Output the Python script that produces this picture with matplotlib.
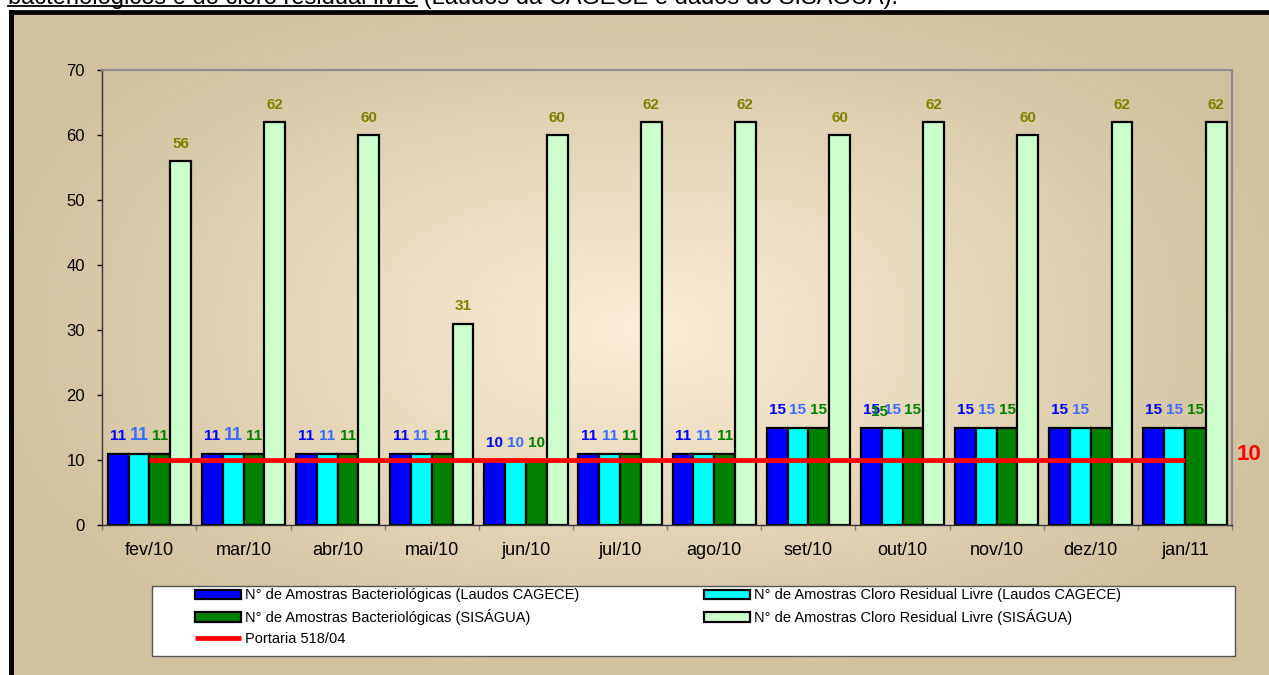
import numpy as np
import matplotlib
matplotlib.use('Agg')
import matplotlib.pyplot as plt
from matplotlib.patches import Rectangle
from matplotlib.lines import Line2D
import matplotlib.transforms as mtransforms

plt.rcParams['font.family'] = ['Liberation Sans', 'DejaVu Sans']

# ---------------- data ----------------
months = ['fev/10', 'mar/10', 'abr/10', 'mai/10', 'jun/10', 'jul/10',
          'ago/10', 'set/10', 'out/10', 'nov/10', 'dez/10', 'jan/11']
bact_cagece = [11, 11, 11, 11, 10, 11, 11, 15, 15, 15, 15, 15]
cloro_cagece = [11, 11, 11, 11, 10, 11, 11, 15, 15, 15, 15, 15]
bact_sisagua = [11, 11, 11, 11, 10, 11, 11, 15, 15, 15, 15, 15]
cloro_sisagua = [56, 62, 60, 31, 60, 62, 62, 60, 62, 60, 62, 62]
portaria = [10] * 12
portaria_label = '10'
yticks = [0, 10, 20, 30, 40, 50, 60, 70]

series_names = ['N° de Amostras Bacteriológicas (Laudos CAGECE)',
                'N° de Amostras Cloro Residual Livre (Laudos CAGECE)',
                'N° de Amostras Bacteriológicas (SISÁGUA)',
                'N° de Amostras Cloro Residual Livre (SISÁGUA)']
portaria_name = 'Portaria 518/04'
title_underlined = 'bacteriológicos e do cloro residual livre'
title_rest = ' (Laudos da CAGECE e dados do SISÁGUA).'

# ---------------- figure ----------------
W, H, DPI = 1269, 675, 100
fig = plt.figure(figsize=(W / DPI, H / DPI), dpi=DPI)
fig.patch.set_facecolor('white')

# background gradient inside the black frame
bg = fig.add_axes([0, 0, 1, 1], zorder=-10)
yy, xx = np.mgrid[0:H, 0:W] + 0.5
cx, cy, rx, ry = 640, 330, 650, 345
p = 2.5
d = ((np.abs(xx - cx) / rx) ** p + (np.abs(yy - cy) / ry) ** p) ** (1 / p)
d = np.clip(d, 0, 1)
c0 = np.array([0xFB, 0xEE, 0xD6]) / 255
c1 = np.array([0xD0, 0xC2, 0x9E]) / 255
img = c0 + (c1 - c0) * d[..., None]
img[(xx < 10) | (yy < 11)] = 1.0
bg.imshow(img, extent=[0, W, H, 0], aspect='auto', interpolation='bilinear')
bg.set_xlim(0, W)
bg.set_ylim(H, 0)
bg.axis('off')
bg.plot([10.5, W + 20], [11.5, 11.5], color='black', lw=3.4, solid_capstyle='projecting')
bg.plot([10.5, 10.5], [11.5, H + 20], color='black', lw=3.6, solid_capstyle='projecting')

# ---------------- main axes ----------------
L, R, T, B = 102.3, 1232, 70, 525
ax = fig.add_axes([L / W, 1 - B / H, (R - L) / W, (B - T) / H])
ax.patch.set_alpha(0)

x = np.arange(len(months))
w = 0.221
offs = np.array([-1.5, -0.5, 0.5, 1.5]) * w
fills = ['#0000FF', '#00FFFF', '#008000', '#CCFFCC']
label_colors = ['#0000FF', '#3D6BFF', '#008000', '#808000']
series = [bact_cagece, cloro_cagece, bact_sisagua, cloro_sisagua]

bars = []
for k in range(4):
    b = ax.bar(x + offs[k], series[k], w, color=fills[k], edgecolor='black',
               linewidth=1.6, label=series_names[k], zorder=2)
    bars.append(b)

line, = ax.plot(x, portaria, color='#FF0000', lw=3.4, zorder=4,
                solid_capstyle='butt', label=portaria_name)

# value labels
for k in range(4):
    for i in range(len(months)):
        xi, yi = x[i] + offs[k], series[k][i]
        fs = 11
        if k == 1 and i in (0, 1):
            fs = 13
        dx = 0
        dy = 9.7
        if k == 2 and i == 10:
            # this label sits displaced over the out/10 group in the original
            xi = x[8] + offs[0] + 0.09
            dy = 8.2
        ax.annotate(str(series[k][i]), (xi, yi), xytext=(dx, dy),
                    textcoords='offset points', ha='center', va='baseline',
                    fontsize=fs, fontweight='bold', color=label_colors[k],
                    zorder=5, annotation_clip=False)

trans = mtransforms.blended_transform_factory(ax.transAxes, ax.transData)
ax.text(1.0148, portaria[-1], portaria_label, transform=trans, color='#FF0000',
        fontsize=16, fontweight='bold', ha='center', va='baseline')

ax.set_xlim(-0.5, len(months) - 0.5)
ax.set_ylim(0, 70)
ax.set_yticks(yticks)
ax.set_xticks(x)
ax.set_xticklabels(months)
ax.set_xticks(np.arange(len(months) + 1) - 0.5, minor=True)
ax.tick_params(axis='y', which='major', direction='out', length=3.5, width=1,
               labelsize=12, pad=9, colors='black')
ax.tick_params(axis='x', which='major', length=0, labelsize=13, pad=12)
ax.tick_params(axis='x', which='minor', direction='out', length=3.5, width=1,
               color='#808080')

for s in ['top', 'right']:
    ax.spines[s].set_color('#8C8C8C')
    ax.spines[s].set_linewidth(1.6)
for s in ['left', 'bottom']:
    ax.spines[s].set_color('#333333')
    ax.spines[s].set_linewidth(1.0)

# ---------------- legend ----------------
fig.patches.append(Rectangle((152 / W, 1 - 656 / H), (1235 - 152) / W, (656 - 586) / H,
                             transform=fig.transFigure, facecolor='white',
                             edgecolor='#555555', lw=1.0, zorder=1))
leg_kw = dict(frameon=False, fontsize=10.5, handlelength=3.15, handleheight=0.62,
              handletextpad=0.3, labelspacing=0.45, borderpad=0, borderaxespad=0,
              loc='upper left')
leg1 = fig.legend([bars[0], bars[2], line], [series_names[0], series_names[2], portaria_name],
                  bbox_to_anchor=(195 / W, 1 - 588.5 / H), **leg_kw)
leg2 = fig.legend([bars[1], bars[3]], [series_names[1], series_names[3]],
                  bbox_to_anchor=(704 / W, 1 - 588.5 / H), **leg_kw)
leg1.set_zorder(3)
leg2.set_zorder(3)

# ---------------- title fragment (cut at the top) ----------------
t1 = fig.text(8 / W, 1 - 4 / H, title_underlined, fontsize=17, ha='left', va='baseline')
fig.canvas.draw()
r = fig.canvas.get_renderer()
bb = t1.get_window_extent(renderer=r)
fig.text(bb.x1 / W, 1 - 4 / H, title_rest, fontsize=17, ha='left', va='baseline')
fig.add_artist(Line2D([bb.x0 / W, bb.x1 / W], [1 - 6 / H, 1 - 6 / H],
                      transform=fig.transFigure, color='black', lw=1.3))

fig.savefig('out.png', dpi=DPI)
